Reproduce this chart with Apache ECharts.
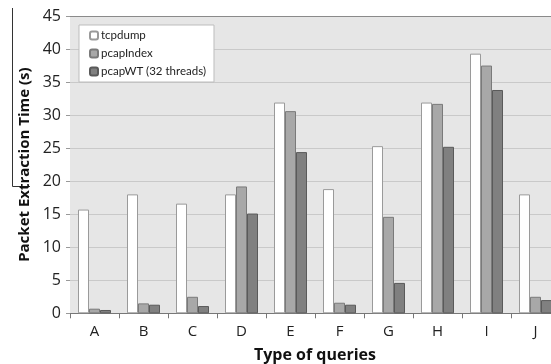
<!DOCTYPE html>
<html><head><meta charset="utf-8">
<script src="https://cdn.jsdelivr.net/npm/echarts@6/dist/echarts.min.js"></script>
<style>html,body{margin:0;padding:0;background:#fff;}#c{width:551px;height:364px;}</style>
</head><body><div id="c"></div>
<script>
const categories = ['A','B','C','D','E','F','G','H','I','J'];
const tcpdump = [15.7, 18.0, 16.6, 18.0, 31.9, 18.8, 25.3, 31.9, 39.3, 18.0];
const pcapIndex = [0.7, 1.5, 2.5, 19.2, 30.6, 1.6, 14.6, 31.7, 37.5, 2.5];
const pcapWT = [0.5, 1.3, 1.1, 15.1, 24.4, 1.3, 4.6, 25.2, 33.8, 2.0];
const yTicks = [0, 45, 5];

const font = '"Open Sans", "Noto Sans", sans-serif';
const legendFont = 'Lato, "Open Sans", sans-serif';
const chart = echarts.init(document.getElementById('c'), null, {renderer:'canvas'});
const gridColors = ['#c9c9c9','#c9c9c9','#c9c9c9','#c9c9c9','#c9c9c9','#c9c9c9','#c9c9c9','#c9c9c9','#c9c9c9','#8a8a8a'];
chart.setOption({
  animation: false,
  textStyle: {fontFamily: font},
  grid: {left: 70, top: 16, width: 490, height: 297.3, show: true, backgroundColor: '#e6e6e6', borderWidth: 0,
         containLabel: false, outerBoundsMode: 'none'},
  legend: {
    orient: 'vertical', left: 79, top: 25,
    backgroundColor: '#fff', borderColor: '#bdbdbd', borderWidth: 1,
    padding: [4, 8, 4, 10], itemGap: 5, itemWidth: 8, itemHeight: 8,
    textStyle: {fontFamily: legendFont, fontSize: 11.5, color: '#222', padding: [0,0,0,-2], lineHeight: 13},
    data: ['tcpdump','pcapIndex','pcapWT (32 threads)']
  },
  xAxis: {
    type: 'category', data: categories,
    name: 'Type of queries', nameLocation: 'middle', nameGap: 34,
    nameTextStyle: {fontFamily: font, fontSize: 16, fontWeight: 'bold', color: '#111'},
    axisLine: {lineStyle: {color: '#777'}},
    axisTick: {show: true, length: 5, lineStyle: {color: '#777'}},
    axisLabel: {fontSize: 15, color: '#222', margin: 11, fontFamily: font},
  },
  yAxis: {
    type: 'value', min: yTicks[0], max: yTicks[1], interval: yTicks[2],
    name: 'Packet Extraction Time (s)', nameLocation: 'middle', nameGap: 37, nameRotate: 90,
    nameTextStyle: {fontFamily: font, fontSize: 15, fontWeight: 'bold', color: '#111'},
    axisLine: {show: false},
    axisTick: {show: true, length: 4, lineStyle: {color: '#999'}},
    axisLabel: {fontSize: 16, color: '#222', margin: 9, fontFamily: font},
    splitLine: {lineStyle: {color: gridColors}}
  },
  series: [
    {name: 'tcpdump', type: 'bar', data: tcpdump, barWidth: 11, barGap: '0%',
     itemStyle: {color: '#ffffff', borderColor: '#9a9a9a', borderWidth: 1}},
    {name: 'pcapIndex', type: 'bar', data: pcapIndex, barWidth: 11, barGap: '0%',
     itemStyle: {color: '#a8a8a8', borderColor: '#7a7a7a', borderWidth: 1}},
    {name: 'pcapWT (32 threads)', type: 'bar', data: pcapWT, barWidth: 11, barGap: '0%',
     itemStyle: {color: '#808080', borderColor: '#5a5a5a', borderWidth: 1}}
  ],
  graphic: [
    {type: 'polyline', shape: {points: [[12.5, 8], [12.5, 186.5], [30, 186.5]]}, style: {stroke: '#333', lineWidth: 1, fill: null}}
  ]
});
</script></body></html>
